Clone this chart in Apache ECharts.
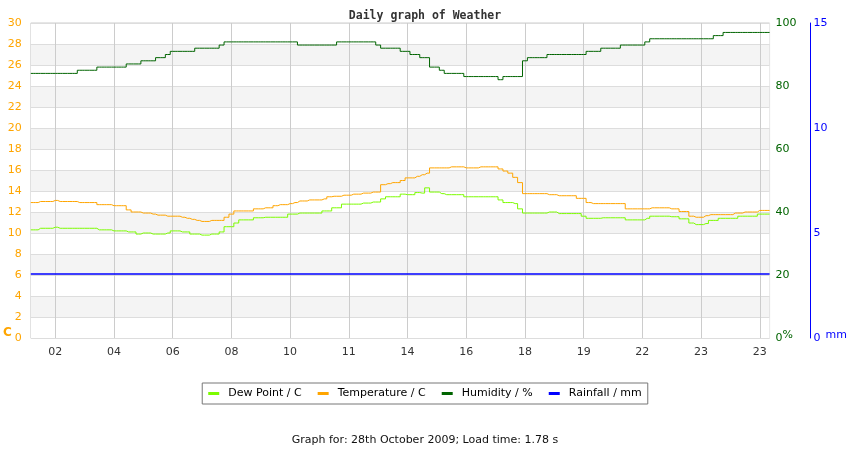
<!DOCTYPE html>
<html>
<head>
<meta charset="utf-8">
<title>Daily graph of Weather</title>
<script src="https://cdn.jsdelivr.net/npm/echarts@6/dist/echarts.min.js"></script>
<style>
html,body{margin:0;padding:0;background:#fff}
#chart{width:850px;height:450px}
</style>
</head>
<body>
<div id="chart"></div>
<script>
// hour labels shown on every 12th sample, starting at sample 5
var tickLabels = ['02','04','06','08','10','11','14','16','18','19','22','23','23'];
var firstTick = 5, tickStep = 12;

var dewPoint = [
    10.3,10.3,10.45,10.45,10.45,10.55,10.45,10.45,10.45,10.45,
    10.45,10.45,10.45,10.45,10.3,10.3,10.3,10.2,10.2,10.2,
    10.1,10.1,9.9,10.0,10.0,9.9,9.9,9.9,10.0,10.2,
    10.2,10.1,10.1,9.9,9.9,9.8,9.8,9.9,9.9,10.1,
    10.6,10.6,10.95,11.25,11.25,11.25,11.45,11.45,11.5,11.5,
    11.5,11.5,11.5,11.8,11.8,11.9,11.9,11.9,11.9,11.9,
    12.1,12.1,12.4,12.4,12.75,12.75,12.75,12.75,12.85,12.85,
    12.95,12.95,13.25,13.45,13.45,13.45,13.7,13.65,13.65,13.85,
    13.8,14.3,13.9,13.9,13.75,13.65,13.65,13.65,13.65,13.45,
    13.45,13.45,13.45,13.45,13.45,13.45,13.15,12.9,12.9,12.8,
    12.3,11.9,11.9,11.9,11.9,11.9,12.0,12.0,11.85,11.85,
    11.85,11.85,11.85,11.6,11.4,11.4,11.4,11.45,11.45,11.45,
    11.45,11.45,11.25,11.25,11.25,11.25,11.4,11.6,11.6,11.6,
    11.6,11.55,11.55,11.35,11.35,10.95,10.8,10.8,10.9,11.2,
    11.2,11.4,11.4,11.4,11.4,11.6,11.6,11.6,11.6,11.8,
    11.8,11.8
];
var temperature = [
    12.9,12.9,13.0,13.0,13.0,13.1,13.0,13.0,13.0,13.0,
    12.9,12.9,12.9,12.9,12.7,12.7,12.7,12.6,12.6,12.6,
    12.2,12.0,12.0,11.9,11.9,11.8,11.7,11.7,11.6,11.6,
    11.6,11.5,11.4,11.3,11.2,11.1,11.1,11.2,11.2,11.2,
    11.5,11.8,12.1,12.1,12.1,12.1,12.3,12.3,12.4,12.4,
    12.6,12.7,12.7,12.8,12.9,13.05,13.05,13.15,13.15,13.15,
    13.25,13.45,13.5,13.5,13.6,13.6,13.7,13.7,13.8,13.8,
    13.9,13.9,14.6,14.7,14.8,14.8,15.0,15.25,15.25,15.4,
    15.55,15.7,16.2,16.2,16.2,16.2,16.3,16.3,16.3,16.2,
    16.2,16.2,16.3,16.3,16.3,16.3,16.1,15.9,15.7,15.3,
    14.8,13.75,13.75,13.75,13.75,13.75,13.65,13.65,13.55,13.55,
    13.55,13.55,13.3,13.3,12.9,12.8,12.8,12.8,12.8,12.8,
    12.8,12.8,12.3,12.3,12.3,12.3,12.3,12.4,12.4,12.4,
    12.4,12.3,12.3,12.05,12.05,11.6,11.5,11.5,11.65,11.75,
    11.75,11.75,11.75,11.75,11.9,11.9,12.0,12.0,12.0,12.15,
    12.15,12.15
];
var humidity = [
    84,84,84,84,84,84,84,84,84,84,
    85,85,85,85,86,86,86,86,86,86,
    87,87,87,88,88,88,89,89,90,91,
    91,91,91,91,92,92,92,92,92,93,
    94,94,94,94,94,94,94,94,94,94,
    94,94,94,94,94,93,93,93,93,93,
    93,93,93,94,94,94,94,94,94,94,
    94,93,92,92,92,92,91,91,90,90,
    89,89,86,86,85,84,84,84,84,83,
    83,83,83,83,83,83,82,83,83,83,
    83,88,89,89,89,89,90,90,90,90,
    90,90,90,90,91,91,91,92,92,92,
    92,93,93,93,93,93,94,95,95,95,
    95,95,95,95,95,95,95,95,95,95,
    96,96,97,97,97,97,97,97,97,97,
    97,97
];
var rainfall = [
    3.05,3.05,3.05,3.05,3.05,3.05,3.05,3.05,3.05,3.05,
    3.05,3.05,3.05,3.05,3.05,3.05,3.05,3.05,3.05,3.05,
    3.05,3.05,3.05,3.05,3.05,3.05,3.05,3.05,3.05,3.05,
    3.05,3.05,3.05,3.05,3.05,3.05,3.05,3.05,3.05,3.05,
    3.05,3.05,3.05,3.05,3.05,3.05,3.05,3.05,3.05,3.05,
    3.05,3.05,3.05,3.05,3.05,3.05,3.05,3.05,3.05,3.05,
    3.05,3.05,3.05,3.05,3.05,3.05,3.05,3.05,3.05,3.05,
    3.05,3.05,3.05,3.05,3.05,3.05,3.05,3.05,3.05,3.05,
    3.05,3.05,3.05,3.05,3.05,3.05,3.05,3.05,3.05,3.05,
    3.05,3.05,3.05,3.05,3.05,3.05,3.05,3.05,3.05,3.05,
    3.05,3.05,3.05,3.05,3.05,3.05,3.05,3.05,3.05,3.05,
    3.05,3.05,3.05,3.05,3.05,3.05,3.05,3.05,3.05,3.05,
    3.05,3.05,3.05,3.05,3.05,3.05,3.05,3.05,3.05,3.05,
    3.05,3.05,3.05,3.05,3.05,3.05,3.05,3.05,3.05,3.05,
    3.05,3.05,3.05,3.05,3.05,3.05,3.05,3.05,3.05,3.05,
    3.05,3.05
];

var samples = [];
for (var i = 0; i < humidity.length; i++) {
    samples.push(String(i));
}
function isTick(index) {
    return index >= firstTick && (index - firstTick) % tickStep === 0;
}

var font = 'DejaVu Sans';
function line(name, color, data, axis, width) {
    return {
        name: name,
        type: 'line',
        yAxisIndex: axis,
        step: 'middle',
        showSymbol: false,
        symbol: 'none',
        lineStyle: {color: color, width: width || 1},
        itemStyle: {color: color},
        data: data
    };
}

var myChart = echarts.init(document.getElementById('chart'));
var option = {
    animation: false,
    backgroundColor: '#fff',
    title: [{
        text: 'Daily graph of Weather',
        left: 'center',
        top: 5,
        textStyle: {fontFamily: 'DejaVu Sans Mono', fontSize: 11.5, fontWeight: 'bold', color: '#333'}
    }, {
        text: 'Graph for: 28th October 2009; Load time: 1.78 s',
        left: 'center',
        top: 430,
        textStyle: {fontFamily: font, fontSize: 11, fontWeight: 'normal', color: '#111'}
    }],
    legend: {
        data: ['Dew Point / C', 'Temperature / C', 'Humidity / %', 'Rainfall / mm'],
        left: 'center',
        top: 383,
        icon: 'rect',
        itemWidth: 11,
        itemHeight: 3,
        itemGap: 16,
        padding: [5, 6, 5, 6],
        borderColor: '#777',
        borderWidth: 1,
        textStyle: {fontFamily: font, fontSize: 11, color: '#000', padding: [0, 0, 0, 4]}
    },
    grid: {
        left: 30,
        right: 80,
        top: 23,
        bottom: 112,
        show: true,
        borderColor: '#ccc',
        borderWidth: 1
    },
    xAxis: {
        type: 'category',
        data: samples,
        boundaryGap: false,
        axisLine: {show: false},
        axisTick: {show: false},
        axisLabel: {
            interval: function (index) { return isTick(index); },
            formatter: function (value, index) { return tickLabels[(index - firstTick) / tickStep]; },
            color: '#333',
            fontFamily: font,
            fontSize: 11,
            margin: 9
        },
        splitLine: {
            show: true,
            interval: function (index) { return isTick(index); },
            lineStyle: {color: '#ccc', width: 1}
        }
    },
    yAxis: [{
        type: 'value',
        position: 'left',
        min: 0,
        max: 30,
        interval: 2,
        name: 'C',
        nameLocation: 'start',
        nameGap: -5,
        nameMoveOverlap: false,
        nameTextStyle: {color: '#FFA500', fontWeight: 'bold', fontSize: 12, fontFamily: font,
            align: 'right', verticalAlign: 'middle', padding: [0, 19, 0, 0]},
        axisLine: {show: false},
        axisTick: {show: false},
        axisLabel: {color: '#FFA500', fontFamily: font, fontSize: 11, margin: 9},
        splitLine: {lineStyle: {color: '#ddd', width: 1}},
        splitArea: {show: true, areaStyle: {color: ['#fff', '#f4f4f4']}}
    }, {
        type: 'value',
        position: 'right',
        min: 0,
        max: 100,
        interval: 20,
        name: '%',
        nameLocation: 'start',
        nameGap: -3,
        nameMoveOverlap: false,
        nameTextStyle: {color: '#006400', fontSize: 11, fontFamily: font,
            align: 'left', verticalAlign: 'middle', padding: [0, 0, 0, 13]},
        axisLine: {show: false},
        axisTick: {show: false},
        axisLabel: {color: '#006400', fontFamily: font, fontSize: 11, margin: 6},
        splitLine: {show: false}
    }, {
        type: 'value',
        position: 'right',
        offset: 41,
        min: 0,
        max: 15,
        interval: 5,
        name: 'mm',
        nameLocation: 'start',
        nameGap: -3,
        nameMoveOverlap: false,
        nameTextStyle: {color: '#0000ff', fontSize: 11, fontFamily: font,
            align: 'left', verticalAlign: 'middle', padding: [0, 0, 0, 15]},
        axisLine: {show: true, lineStyle: {color: '#0000ff', width: 1}},
        axisTick: {show: false},
        axisLabel: {color: '#0000ff', fontFamily: font, fontSize: 11, margin: 3},
        splitLine: {show: false}
    }],
    series: [
        line('Dew Point / C', '#7CFC00', dewPoint, 0),
        line('Temperature / C', '#FFA500', temperature, 0),
        line('Humidity / %', '#006400', humidity, 1),
        line('Rainfall / mm', '#0000ff', rainfall, 2, 1.5)
    ]
};
myChart.setOption(option);
</script>
</body>
</html>
